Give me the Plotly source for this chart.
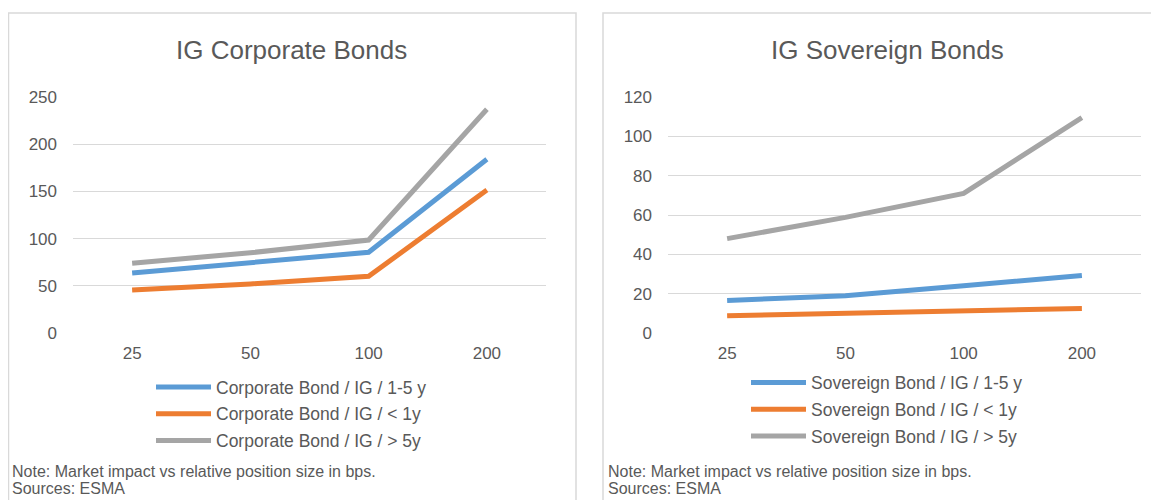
import plotly.graph_objects as go

# page body adds an 8px margin, so the figure is drawn 8px smaller and
# every reference pixel position is shifted by OFF
OFF = 8
W, H = 1159 - OFF, 500 - OFF

# position size in bps (category axis)
sizes = ["25", "50", "100", "200"]

# IG corporate bonds, market impact
corp_1_5y = [63.5, 74, 85.5, 184]
corp_lt_1y = [45.5, 52, 60, 151.5]
corp_gt_5y = [74, 85, 98.5, 237]

# IG sovereign bonds, market impact
sov_1_5y = [16.5, 19, 24, 29.2]
sov_lt_1y = [8.8, 10, 11.5, 12.5]
sov_gt_5y = [48, 58.8, 71, 109.5]

BLUE, ORANGE, GREY = "#5B9BD5", "#ED7D31", "#A5A5A5"
TXT = "#595959"
GRID = "#D9D9D9"
FONT = "Liberation Sans, Arial, sans-serif"


def px_x(p):
    return (p - OFF) / W


def px_y(p):
    return 1 - (p - OFF) / H


fig = go.Figure()

left = [("Corporate Bond / IG / 1-5 y", corp_1_5y, BLUE),
        ("Corporate Bond / IG / < 1y", corp_lt_1y, ORANGE),
        ("Corporate Bond / IG / > 5y", corp_gt_5y, GREY)]
right = [("Sovereign Bond / IG / 1-5 y", sov_1_5y, BLUE),
         ("Sovereign Bond / IG / < 1y", sov_lt_1y, ORANGE),
         ("Sovereign Bond / IG / > 5y", sov_gt_5y, GREY)]

for i, (name, vals, col) in enumerate(left):
    fig.add_trace(go.Scatter(x=sizes, y=vals, name=name, mode="lines",
                             line=dict(color=col, width=5), legendgroup=f"l{i}",
                             xaxis="x", yaxis="y", legend="legend"))
for i, (name, vals, col) in enumerate(right):
    fig.add_trace(go.Scatter(x=sizes, y=vals, name=name, mode="lines",
                             line=dict(color=col, width=5), legendgroup=f"r{i}",
                             xaxis="x2", yaxis="y2", legend="legend2"))

xax = dict(type="category", range=[-0.5, 3.5], showgrid=False, showline=False,
           zeroline=False, ticks="", ticklabelstandoff=8,
           tickfont=dict(size=17, color=TXT, family=FONT))
yax = dict(showgrid=True, gridcolor=GRID, gridwidth=1, zeroline=False,
           showline=False, ticks="", ticklabelstandoff=15,
           tickfont=dict(size=17, color=TXT, family=FONT))

ydom = [px_y(333), px_y(97)]
leg = dict(xanchor="left", yanchor="top", bgcolor="rgba(0,0,0,0)",
           itemwidth=55, tracegroupgap=1,
           font=dict(size=17.5, color=TXT, family=FONT))

fig.update_layout(
    width=W, height=H,
    margin=dict(l=0, r=0, t=0, b=0, autoexpand=False),
    paper_bgcolor="white", plot_bgcolor="white",
    font=dict(family=FONT, color=TXT),
    xaxis=dict(xax, domain=[px_x(73), px_x(546)], anchor="y"),
    yaxis=dict(yax, domain=ydom, range=[0, 250], dtick=50, anchor="x"),
    xaxis2=dict(xax, domain=[px_x(668), px_x(1141)], anchor="y2"),
    yaxis2=dict(yax, domain=ydom, range=[0, 120], dtick=20, anchor="x2"),
    legend=dict(leg, x=px_x(151), y=px_y(369)),
    legend2=dict(leg, x=px_x(746), y=px_y(364.5)),
    showlegend=True,
)

# panel frames
for x0, x1 in [(8.5, 576), (603, 1180)]:
    fig.add_shape(type="rect", xref="paper", yref="paper",
                  x0=px_x(x0), x1=px_x(x1), y0=px_y(530), y1=px_y(13),
                  line=dict(color=GRID, width=1.5), fillcolor="rgba(0,0,0,0)")

# chart titles
for xc, title in [(291, "IG Corporate Bonds"), (887, "IG Sovereign Bonds")]:
    fig.add_annotation(x=px_x(xc), y=px_y(50), xref="paper", yref="paper",
                       text=title, showarrow=False, xanchor="center", yanchor="middle",
                       font=dict(size=26, color=TXT, family=FONT))

# notes
for xl in [11, 607]:
    for yc, line in [(471, "Note: Market impact vs relative position size in bps."),
                     (488, "Sources: ESMA")]:
        fig.add_annotation(x=px_x(xl), y=px_y(yc), xref="paper", yref="paper",
                           text=line, showarrow=False, xanchor="left", yanchor="middle",
                           borderpad=0, font=dict(size=16, color=TXT, family=FONT))

fig.write_html("out.html")
